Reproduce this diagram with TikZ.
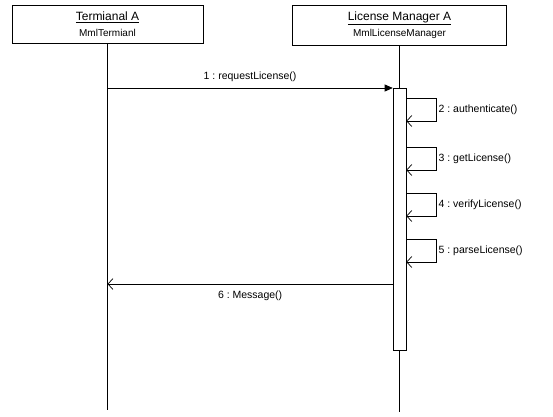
\documentclass[tikz,border=0pt]{standalone}
\usepackage{fontspec}
\setmainfont{Liberation Sans}
\usetikzlibrary{arrows.meta,positioning,calc}
\tikzset{
  objbox/.style={
    draw=black,
    line width=0.8pt,
    align=center,
    inner sep=2pt,
    font=\fontsize{12}{16}\selectfont
  },
  lifeline/.style={line width=0.6pt,draw=black},
  actbar/.style={draw=black,line width=0.6pt,fill=white,minimum width=13pt,inner sep=0pt},
  callmsg/.style={-{Triangle[length=8pt,width=7pt]},line width=0.7pt,draw=black},
  retmsg/.style={-{Straight Barb[length=5pt,width=11pt]},line width=0.7pt,draw=black},
  msglabel/.style={font=\fontsize{10.5}{12}\selectfont,inner sep=2pt}
}
\newcommand{\subname}[1]{{\fontsize{10}{12}\selectfont #1}}

\begin{document}
\frenchspacing
\begin{tikzpicture}[x=1pt,y=-1pt]
  \useasboundingbox (0,0) rectangle (553,416);
  % objects
  \node[objbox,minimum width=191pt,minimum height=38pt] (termA) at (107.5,24) {\underline{Termianal A}\\\subname{MmlTermianl}};
  \node[objbox,minimum width=214pt,minimum height=40pt] (licmgr) at (399.5,25) {\underline{License Manager A}\\\subname{MmlLicenseManager}};
  % lifelines
  \coordinate (termEnd) at (107.5,410);
  \coordinate (licEnd) at (399.5,412);
  \draw[lifeline] (termA.south) -- (termEnd);
  \draw[lifeline] (licmgr.south) -- (licEnd);
  \node[actbar,minimum height=262pt,anchor=north] (bar) at (399.5,88) {};
  % messages
  \coordinate (req) at (107.5,88);
  \draw[callmsg] (req) -- node[above,msglabel,yshift=4pt] {1 : requestLicense()} (bar.north west);
  \foreach \y/\txt in {98/2 : authenticate(),147/3 : getLicense(),193/4 : verifyLicense(),239/5 : parseLicense()}{
    \draw[retmsg] (bar.east |- 0,\y) -- ++(30,0) -- node[right,msglabel] {\txt} ++(0,23) -- (bar.east |- 0,\y+23);
  }
  \coordinate (msgStart) at (bar.west |- 0,284);
  \coordinate (msgEnd) at (107.5,284);
  \draw[retmsg] (msgStart) -- node[below,msglabel,yshift=-5pt] {6 : Message()} (msgEnd);
\end{tikzpicture}
\end{document}
